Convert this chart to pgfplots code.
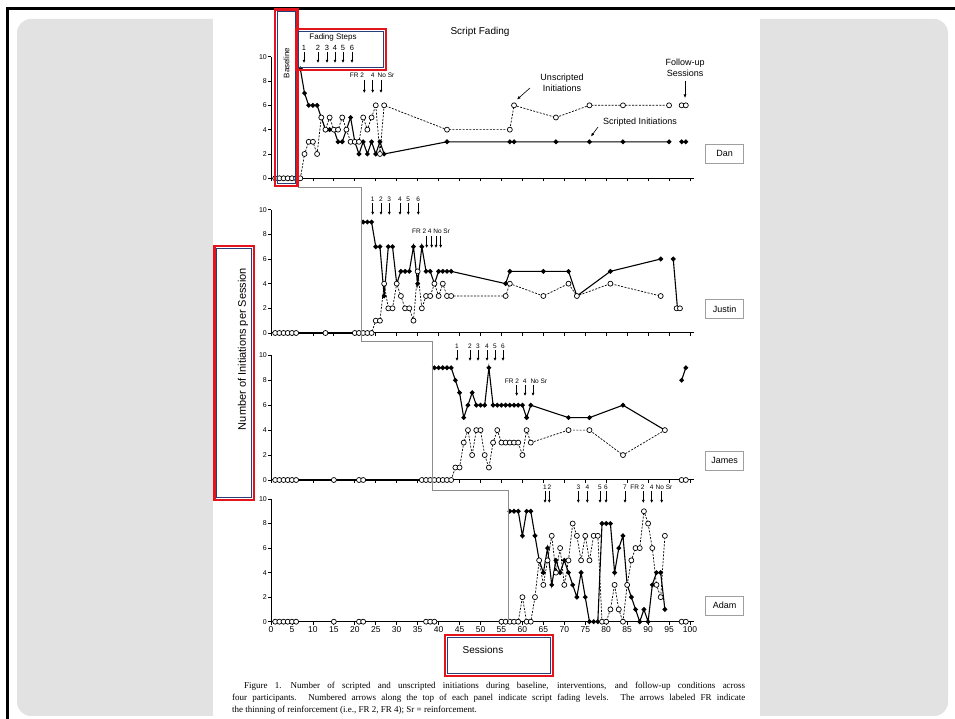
\documentclass[border=0pt]{standalone}
\usepackage{fontspec}
\setmainfont{Liberation Sans}
\newfontfamily\capfont{Liberation Serif}
\usepackage{pgfplots}
\pgfplotsset{compat=1.18}
\usetikzlibrary{arrows.meta}

\definecolor{slidegray}{RGB}{226,226,226}
\definecolor{phasegray}{RGB}{140,140,140}
\definecolor{boxred}{RGB}{228,20,28}
\definecolor{boxblue}{RGB}{40,62,120}

\pgfplotsset{
  panel/.style={
    scale only axis, width=423.2pt,
    xmin=0, xmax=101, ymin=0, ymax=10,
    axis x line=bottom, axis y line=left,
    axis line style={-, line width=1pt},
    xtick={0,5,...,100}, ytick={0,2,...,10},
    tick align=outside, major tick length=3pt,
    tick style={line width=0.8pt, black},
    yticklabel style={font=\fontsize{7}{8}\selectfont, inner sep=1pt},
    /pgf/number format/assume math mode=true,
    clip=false,
  },
  scr/.style={black, line width=1.1pt, mark=*, mark size=1.8pt,
    mark options={solid}},
  uns/.style={black, line width=0.7pt, dash pattern=on 2pt off 1.4pt,
    mark=*, mark size=2.5pt,
    mark options={solid, fill=white, draw=black, line width=0.7pt}},
}

% fading-step arrow: x, top, bottom (page coordinates)
\newcommand{\farrow}[3]{\draw[-{Latex[length=3pt,width=3pt]}, line width=0.6pt] (#1,#2) -- (#1,#3);}

\begin{document}
\begin{tikzpicture}[x=1pt,y=1pt]
\useasboundingbox (0,0) rectangle (955,719);

% slide frame and page
\begin{scope}[x=1pt, y=-1pt, shift={(0pt,719pt)}]
  \fill[white] (0,0) rectangle (955,719);
  \fill[slidegray, rounded corners=14pt] (17,19) rectangle (948,716);
  \fill[white] (213,11) rectangle (760,719);
  \draw[line width=3pt] (7,719) -- (7,9) -- (955,9);
\end{scope}

% ---------------- Dan ----------------
\begin{axis}[panel, at={(271pt,540.7pt)}, anchor=south west,
  height=121.6pt, xticklabels={}]
\addplot[scr] coordinates {(1,0)(2,0)(3,0)(4,0)(5,0)(6,0)};
\addplot[uns] coordinates {(1,0)(2,0)(3,0)(4,0)(5,0)(6,0)};
\addplot[scr] coordinates {(7,9)(8,7)(9,6)(10,6)(11,6)(12,5)(13,4)(14,4)(15,4)
  (16,3)(17,3)(18,4)(19,5)(20,3)(21,2)(22,3)(23,2)(24,3)(25,2)(26,3)(27,2)
  (42,3)(57,3)(58,3)(68,3)(76,3)(84,3)(95,3)};
\addplot[uns] coordinates {(7,0)(8,2)(9,3)(10,3)(11,2)(12,5)(13,4)(14,5)(15,4)
  (16,4)(17,5)(18,4)(19,3)(20,3)(21,3)(22,5)(23,4)(24,5)(25,6)(26,2)(27,6)
  (42,4)(57,4)(58,6)(68,5)(76,6)(84,6)(95,6)};
\addplot[scr] coordinates {(98,3)(99,3)};
\addplot[uns] coordinates {(98,6)(99,6)};
\end{axis}

% ---------------- Justin ----------------
\begin{axis}[panel, at={(271pt,386pt)}, anchor=south west,
  height=123.3pt, xticklabels={}]
\addplot[scr] coordinates {(1,0)(2,0)(3,0)(4,0)(5,0)(6,0)(13,0)(20,0)(21,0)};
\addplot[uns] coordinates {(1,0)(2,0)(3,0)(4,0)(5,0)(6,0)(13,0)(20,0)(21,0)};
\addplot[scr] coordinates {(22,9)(23,9)(24,9)(25,7)(26,7)(27,3)(28,7)(29,7)
  (30,4)(31,5)(32,5)(33,5)(34,7)(35,4)(36,7)(37,5)(38,5)(39,4)(40,5)(41,5)
  (42,5)(43,5)(56,4)(57,5)(65,5)(71,5)(73,3)(81,5)(93,6)};
\addplot[uns] coordinates {(22,0)(23,0)(24,0)(25,1)(26,1)(27,4)(28,2)(29,2)
  (30,4)(31,3)(32,2)(33,2)(34,1)(35,5)(36,2)(37,3)(38,3)(39,4)(40,3)(41,4)
  (42,3)(43,3)(56,3)(57,4)(65,3)(71,4)(73,3)(81,4)(93,3)};
\addplot[scr] coordinates {(96,6)(97,2)};
\addplot[uns] coordinates {(96.8,2)(97.6,2)};
\end{axis}

% ---------------- James ----------------
\begin{axis}[panel, at={(271pt,239pt)}, anchor=south west,
  height=124.7pt, xticklabels={}]
\addplot[scr] coordinates {(1,0)(2,0)(3,0)(4,0)(5,0)(6,0)(15,0)(21,0)(22,0)
  (36,0)(37,0)(38,0)};
\addplot[uns] coordinates {(1,0)(2,0)(3,0)(4,0)(5,0)(6,0)(15,0)(21,0)(22,0)
  (36,0)(37,0)(38,0)};
\addplot[scr] coordinates {(39,9)(40,9)(41,9)(42,9)(43,9)(44,8)(45,7)(46,5)
  (47,6)(48,7)(49,6)(50,6)(51,6)(52,9)(53,6)(54,6)(55,6)(56,6)(57,6)(58,6)
  (59,6)(60,6)(61,5)(62,6)(71,5)(76,5)(84,6)(94,4)};
\addplot[uns] coordinates {(39,0)(40,0)(41,0)(42,0)(43,0)(44,1)(45,1)(46,3)
  (47,4)(48,2)(49,4)(50,4)(51,2)(52,1)(53,3)(54,4)(55,3)(56,3)(57,3)(58,3)
  (59,3)(60,2)(61,4)(62,3)(71,4)(76,4)(84,2)(94,4)};
\addplot[scr] coordinates {(98,8)(99,9)};
\addplot[uns] coordinates {(98,0)(99,0)};
\end{axis}

% ---------------- Adam ----------------
\begin{axis}[panel, at={(271pt,97.3pt)}, anchor=south west,
  height=122.7pt,
  xticklabel style={font=\fontsize{8.5}{9}\selectfont, inner sep=2pt}]
\addplot[scr] coordinates {(1,0)(2,0)(3,0)(4,0)(5,0)(6,0)(15,0)(21,0)(22,0)
  (37,0)(38,0)(39,0)(55,0)(56,0)};
\addplot[uns] coordinates {(1,0)(2,0)(3,0)(4,0)(5,0)(6,0)(15,0)(21,0)(22,0)
  (37,0)(38,0)(39,0)(55,0)(56,0)};
\addplot[scr] coordinates {(57,9)(58,9)(59,9)(60,7)(61,9)(62,9)(63,7)(64,5)
  (65,4)(66,6)(67,3)(68,5)(69,4)(70,5)(71,4)(72,3)(73,2)(74,4)(75,2)(76,0)
  (77,0)(78,0)(79,8)(80,8)(81,8)(82,4)(83,6)(84,7)(85,3)(86,2)(87,1)(88,0)
  (89,1)(90,0)(91,3)(92,4)(93,4)(94,1)};
\addplot[uns] coordinates {(57,0)(58,0)(59,0)(60,2)(61,0)(62,0)(63,2)(64,5)
  (65,3)(66,5)(67,7)(68,4)(69,6)(70,3)(71,5)(72,8)(73,7)(74,5)(75,7)(76,5)
  (77,7)(78,7)(79,0)(80,0)(81,1)(82,3)(83,1)(84,0)(85,3)(86,5)(87,6)(88,6)
  (89,9)(90,8)(91,6)(92,3)(93,2)(94,7)};
\addplot[scr] coordinates {(98,0)(99,0)};
\addplot[uns] coordinates {(98,0)(99,0)};
\end{axis}

% ---------------- annotations (page coordinates, y downward) ----------------
\begin{scope}[x=1pt, y=-1pt, shift={(0pt,719pt)}]
  % phase-change line
  \draw[phasegray, line width=0.8pt] (298,52) -- (298,187) -- (361,187)
    -- (361,341) -- (432.5,341) -- (432.5,490) -- (508,490) -- (508,622);

  % titles and axis labels
  \node[font=\fontsize{10}{12}\selectfont] at (480,32) {Script Fading};
  \node[rotate=90, font=\fontsize{11}{13}\selectfont] at (243,349)
    {Number of Initiations per Session};
  \node[font=\fontsize{10}{12}\selectfont] at (483,650) {Sessions};
  \node[rotate=90, font=\fontsize{8}{9}\selectfont] at (286.5,63) {Baseline};

  % Dan
  \node[font=\fontsize{8}{9}\selectfont] at (333,37) {Fading Steps};
  \foreach \x/\t in {304/1,318/2,327/3,335/4,343/5,352/6}
    {\node[font=\fontsize{7.5}{8}\selectfont] at (\x,47.5) {\t};}
  \foreach \x in {304,318,327,335,343,352} {\farrow{\x}{52}{63}}
  \node[font=\fontsize{6.5}{7}\selectfont] at (357,75) {FR 2};
  \node[font=\fontsize{6.5}{7}\selectfont] at (372.7,75) {4};
  \node[font=\fontsize{6.5}{7}\selectfont] at (386,75) {No Sr};
  \foreach \x in {364.3,372.7,381} {\farrow{\x}{80}{93}}
  \node[align=center, font=\fontsize{9}{11.5}\selectfont] at (562,83)
    {Unscripted\\Initiations};
  \draw[-{Latex[length=3.5pt,width=3pt]}, line width=0.6pt] (530,88) -- (517,99.5);
  \node[font=\fontsize{9}{11}\selectfont] at (640,122) {Scripted Initiations};
  \draw[-{Latex[length=3.5pt,width=3pt]}, line width=0.6pt] (598,127) -- (591,136.5);
  \node[align=center, font=\fontsize{9}{11.5}\selectfont] at (685,68)
    {Follow-up\\Sessions};
  \draw[-{Latex[length=3.5pt,width=3pt]}, line width=0.6pt] (685,81) -- (685,98);

  % Justin
  \foreach \x/\t in {372.7/1,381/2,389.3/3,400/4,408.3/5,418.3/6}
    {\node[font=\fontsize{6.5}{7}\selectfont] at (\x,199) {\t};}
  \foreach \x in {372.7,381,389.3,400,408.3,418.3} {\farrow{\x}{203}{215}}
  \node[font=\fontsize{6.5}{7}\selectfont] at (431,231) {FR 2 4 No Sr};
  \foreach \x in {426.7,431.7,436,440.7} {\farrow{\x}{236}{248}}

  % James
  \foreach \x/\t in {457/1,470/2,478/3,487/4,495/5,503/6}
    {\node[font=\fontsize{6.5}{7}\selectfont] at (\x,346) {\t};}
  \foreach \x in {457,470,478,487,495,503} {\farrow{\x}{350}{361}}
  \node[font=\fontsize{6.5}{7}\selectfont] at (526,381) {FR 2\,\, 4\,\, No Sr};
  \foreach \x in {516.7,525,533} {\farrow{\x}{385}{396}}

  % Adam
  \foreach \x/\t in {545/1,549.3/2,578.3/3,587.3/4,600/5,606/6,625/7,651.7/4}
    {\node[font=\fontsize{6.5}{7}\selectfont] at (\x,487) {\t};}
  \node[font=\fontsize{6.5}{7}\selectfont] at (637.5,487) {FR 2};
  \node[font=\fontsize{6.5}{7}\selectfont] at (664,487) {No Sr};
  \foreach \x in {545,549.3,578.3,587.3,600,606,625,643.3,651.7,661.7}
    {\farrow{\x}{491}{503}}

  % participant labels
  \foreach \y/\n in {153.5/Dan,309/Justin,460.5/James,605.5/Adam}
    {\node[draw=gray!75, line width=0.9pt, minimum width=38pt, minimum height=19pt,
      inner sep=1pt, font=\fontsize{9}{10}\selectfont] at (724.5,\y) {\n};}

  % caption
  \node[anchor=north west, inner sep=0pt, text width=513pt, align=justify,
    font=\capfont\fontsize{9}{12}\selectfont] at (232,681.5)
    {\hspace*{12pt}Figure 1.\quad Number of scripted and unscripted initiations
    during baseline, interventions, and follow-up conditions across\linebreak
    four participants. Numbered arrows along the top of each panel indicate
    script fading levels. The arrows labeled FR indicate\linebreak
    the thinning of reinforcement (i.e., FR 2, FR 4); Sr = reinforcement.};

  % highlight boxes
  \foreach \a/\b/\c/\d in {275/9.5/297.5/186, 296/29/386/70, 214.5/246/254/500,
    445/635/553/676}{
    \draw[boxred, line width=2.6pt] (\a,\b) rectangle (\c,\d);
    \draw[boxblue, line width=0.8pt] (\a+2.3,\b+2.3) rectangle (\c-2.3,\d-2.3);
  }
\end{scope}
\end{tikzpicture}
\end{document}
